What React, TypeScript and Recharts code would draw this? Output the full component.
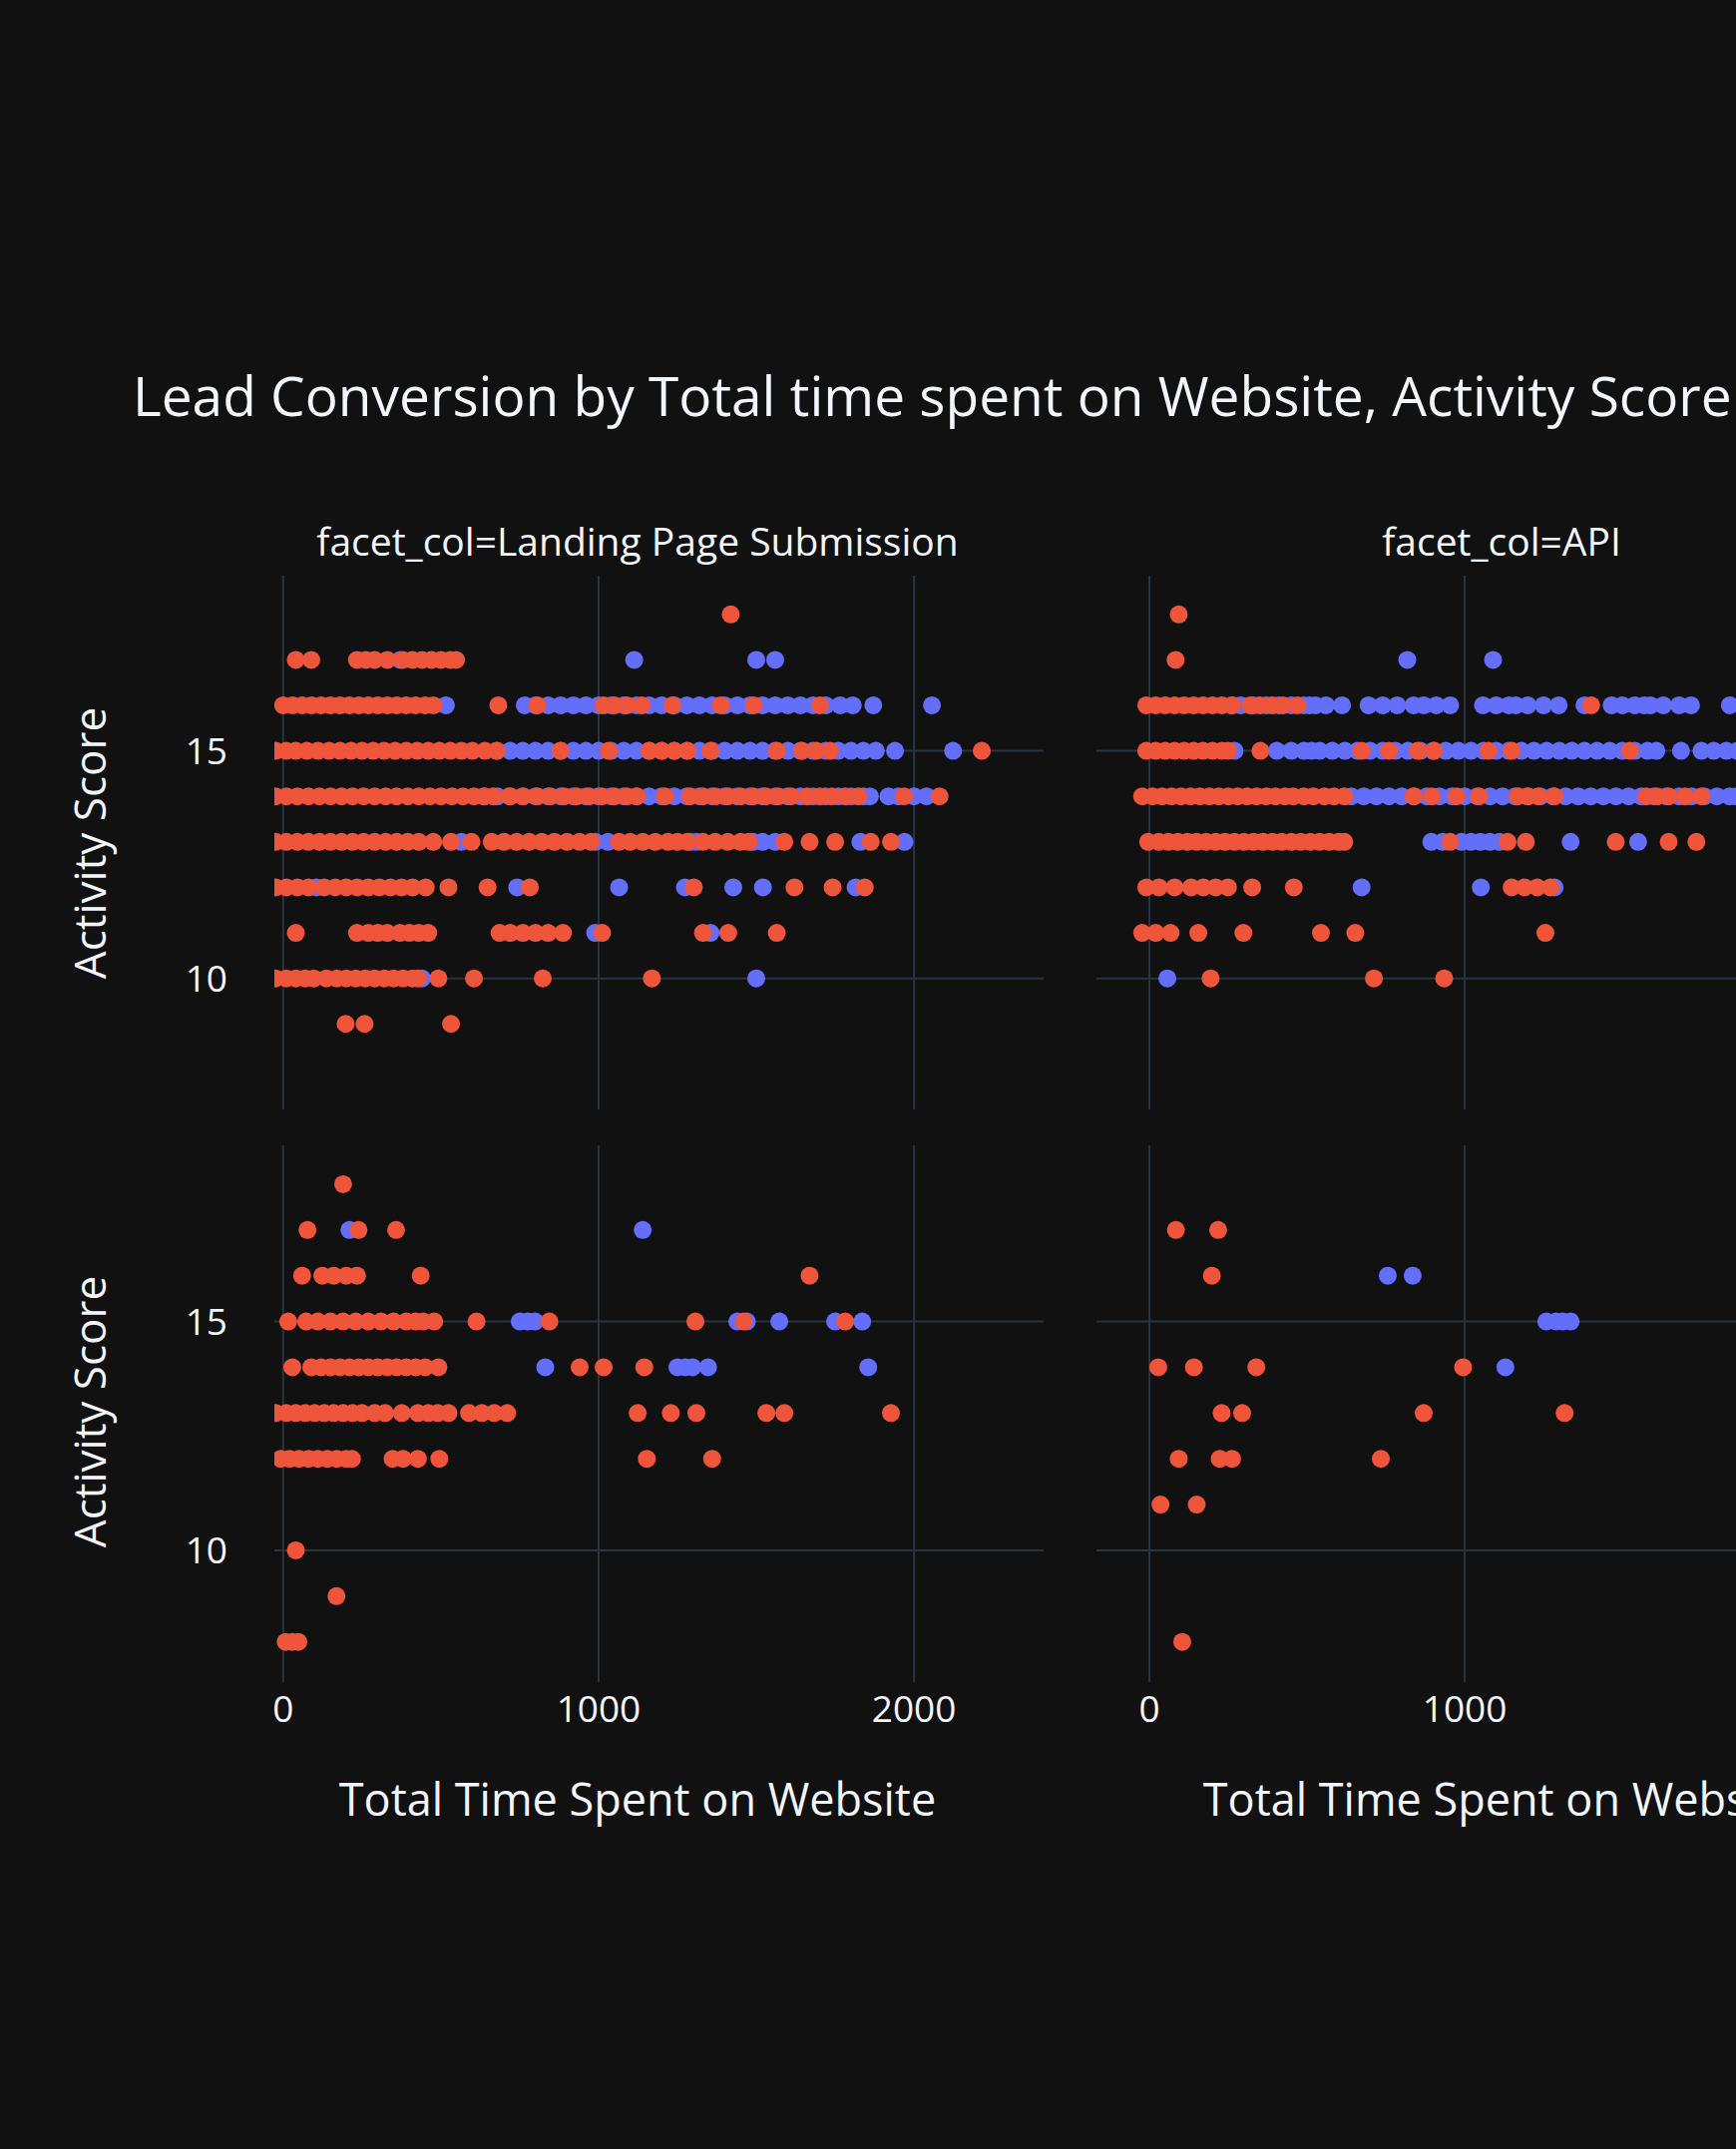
import React from 'react';
import { ScatterChart, Scatter, XAxis, YAxis, CartesianGrid } from 'recharts';

type Rows = [number, number[]][];

const BLUE = '#636efa';
const RED = '#EF553B';
const TEXT = '#f2f5fa';
const GRID = '#283442';
const FONT = '"Open Sans", "Noto Sans", sans-serif';

const titleText = 'Lead Conversion by Total time spent on Website, Activity Score';
const facetLabels = ['facet_col=Landing Page Submission', 'facet_col=API'];
const xTitle = 'Total Time Spent on Website';
const yTitle = 'Activity Score';
const xTicks = [0, 1000, 2000];
const yTicks = [10, 15];
const yDomain: [number, number] = [7.12, 18.85];
const leftXDomain: [number, number] = [-28, 2411];
const rightXDomain: [number, number] = [-168, 2272];

// Top row, Landing Page Submission
const topLeftRed: Rows = [
  [18, [1419]],
  [17, [40, 89, 234, 262, 290, 330, 379, 410, 440, 470, 500, 530, 548]],
  [16, [0, 30, 60, 90, 120, 150, 180, 210, 240, 270, 300, 330, 360, 390, 420, 450, 476, 682, 806, 1016, 1050, 1090, 1137, 1234, 1387, 1492, 1702]],
  [15, [-24, 10, 40, 75, 110, 145, 180, 215, 250, 285, 320, 355, 390, 425, 460, 495, 530, 565, 600, 640, 677, 879, 1032, 1161, 1200, 1240, 1282, 1355, 1565, 1645, 1690, 1734, 2215]],
  [14, [-24, 10, 45, 80, 115, 150, 185, 220, 255, 290, 325, 360, 395, 430, 465, 500, 535, 570, 605, 637, 666, 718, 760, 806, 847, 890, 930, 970, 1010, 1050, 1090, 1121, 1210, 1290, 1330, 1370, 1410, 1450, 1490, 1530, 1570, 1610, 1661, 1702, 1740, 1782, 1823, 1968, 2081]],
  [13, [-24, 10, 45, 80, 115, 150, 185, 220, 255, 290, 325, 360, 395, 430, 476, 532, 597, 661, 700, 740, 780, 820, 860, 900, 940, 976, 1065, 1100, 1140, 1180, 1220, 1250, 1282, 1331, 1370, 1410, 1450, 1476, 1589, 1669, 1750, 1863, 1927]],
  [12, [-24, 10, 45, 80, 130, 165, 200, 235, 270, 305, 340, 375, 410, 452, 524, 648, 782, 1302, 1621, 1742, 1844]],
  [11, [40, 234, 270, 300, 330, 370, 400, 430, 460, 686, 720, 760, 800, 840, 887, 1011, 1331, 1411, 1565]],
  [10, [-24, 10, 40, 70, 97, 137, 170, 200, 230, 260, 290, 320, 350, 380, 410, 427, 492, 605, 823, 1169]],
  [9, [198, 258, 532]],
];
const topLeftBlue: Rows = [
  [17, [371, 1113, 1500, 1560]],
  [16, [516, 766, 800, 840, 880, 920, 960, 1000, 1040, 1080, 1120, 1160, 1200, 1240, 1280, 1320, 1360, 1400, 1440, 1480, 1520, 1560, 1600, 1640, 1680, 1720, 1766, 1806, 1871, 2057]],
  [15, [677, 720, 760, 800, 840, 880, 920, 960, 1000, 1040, 1080, 1120, 1160, 1200, 1240, 1280, 1320, 1360, 1400, 1440, 1480, 1520, 1560, 1600, 1640, 1680, 1720, 1760, 1800, 1840, 1879, 1940, 2124]],
  [14, [637, 680, 720, 760, 800, 840, 880, 920, 960, 1000, 1040, 1080, 1120, 1160, 1200, 1240, 1280, 1320, 1360, 1400, 1440, 1480, 1520, 1560, 1600, 1640, 1680, 1720, 1760, 1800, 1840, 1860, 1919, 1950, 2000, 2040]],
  [13, [565, 990, 1030, 1290, 1310, 1490, 1520, 1560, 1830, 1970]],
  [12, [105, 742, 1065, 1274, 1427, 1521, 1815]],
  [11, [989, 1355]],
  [10, [440, 1500]],
];

// Top row, API
const topRightRed: Rows = [
  [18, [93]],
  [17, [83]],
  [16, [-10, 20, 50, 80, 110, 140, 170, 200, 230, 262, 320, 350, 390, 423, 469, 1401]],
  [15, [-10, 20, 50, 80, 110, 140, 170, 200, 230, 249, 352, 673, 760, 851, 903, 1075, 1149, 1524]],
  [14, [-23, 10, 40, 70, 100, 130, 160, 190, 220, 250, 280, 310, 340, 370, 400, 430, 456, 490, 520, 555, 585, 618, 838, 896, 974, 1045, 1168, 1200, 1233, 1285, 1576, 1610, 1647, 1699, 1751]],
  [13, [-4, 30, 60, 90, 120, 150, 180, 210, 240, 270, 300, 330, 360, 390, 420, 450, 480, 510, 540, 570, 600, 618, 954, 1136, 1194, 1479, 1647, 1735]],
  [12, [-10, 30, 80, 132, 171, 210, 249, 326, 458, 1149, 1190, 1230, 1272]],
  [11, [-23, 20, 67, 155, 298, 544, 653, 1256]],
  [10, [194, 712, 935]],
];
const topRightBlue: Rows = [
  [17, [818, 1090]],
  [16, [262, 290, 330, 370, 410, 450, 490, 508, 527, 560, 611, 695, 740, 786, 838, 870, 910, 954, 1058, 1100, 1140, 1162, 1200, 1250, 1298, 1380, 1466, 1500, 1540, 1570, 1589, 1630, 1680, 1718, 1841]],
  [15, [270, 404, 450, 490, 514, 540, 580, 620, 660, 700, 740, 780, 820, 860, 900, 940, 980, 1020, 1060, 1100, 1140, 1180, 1220, 1260, 1300, 1340, 1380, 1420, 1460, 1500, 1540, 1580, 1608, 1686, 1751, 1790, 1830, 1865]],
  [14, [640, 680, 720, 760, 800, 840, 880, 920, 960, 1000, 1040, 1080, 1120, 1160, 1200, 1240, 1280, 1320, 1360, 1400, 1440, 1480, 1520, 1560, 1600, 1640, 1680, 1720, 1760, 1800, 1840, 1860]],
  [13, [894, 930, 990, 1020, 1050, 1080, 1110, 1336, 1550]],
  [12, [673, 1051, 1285]],
  [10, [57]],
];

// Bottom row, Landing Page Submission
const bottomLeftRed: Rows = [
  [18, [190]],
  [17, [77, 239, 358]],
  [16, [60, 124, 160, 200, 234, 436, 1669]],
  [15, [16, 73, 110, 150, 190, 230, 270, 310, 350, 390, 420, 444, 479, 613, 844, 1307, 1460, 1782]],
  [14, [29, 89, 120, 150, 180, 210, 240, 270, 300, 330, 360, 390, 420, 450, 492, 940, 1016, 1145]],
  [13, [-24, 10, 40, 70, 100, 130, 160, 190, 220, 250, 290, 323, 376, 427, 460, 490, 524, 589, 630, 669, 710, 1124, 1229, 1310, 1532, 1589, 1927]],
  [12, [-8, 20, 50, 80, 110, 140, 170, 200, 218, 347, 380, 427, 495, 1153, 1360]],
  [10, [40]],
  [9, [169]],
  [8, [8, 28, 48]],
];
const bottomLeftBlue: Rows = [
  [17, [210, 1140]],
  [15, [750, 775, 798, 1440, 1470, 1573, 1750, 1836]],
  [14, [831, 1250, 1275, 1298, 1347, 1855]],
];

// Bottom row, API
const bottomRightRed: Rows = [
  [17, [84, 218]],
  [16, [198]],
  [14, [28, 141, 339, 995]],
  [13, [229, 294, 870, 1317]],
  [12, [93, 223, 262, 734]],
  [11, [35, 150]],
  [8, [104]],
];
const bottomRightBlue: Rows = [
  [16, [756, 835]],
  [15, [1259, 1290, 1310, 1336]],
  [14, [1129]],
];

const toPoints = (rows: Rows) =>
  rows.flatMap(([y, xs]) => xs.map((x) => ({ x, y })));

const dot = (color: string) => (p: any) =>
  p.cx == null ? <g /> : <circle cx={p.cx} cy={p.cy} r={9} fill={color} />;

const tickStyle = { fill: TEXT, fontSize: 37, fontFamily: FONT };

type PanelProps = {
  left: number; top: number; plotW: number; plotH: number;
  red: Rows; blue: Rows; xDomain: [number, number];
  showY: boolean; showX: boolean;
};

function Panel({ left, top, plotW, plotH, red, blue, xDomain, showY, showX }: PanelProps) {
  const yW = showY ? 275 : 0;
  const xH = showX ? 70 : 0;
  const [x0, x1] = xDomain;
  const [y0, y1] = yDomain;
  const vx = xTicks.filter((t) => t > x0 && t < x1).map((t) => yW + ((t - x0) / (x1 - x0)) * plotW);
  const hy = yTicks.map((t) => ((y1 - t) / (y1 - y0)) * plotH);
  return (
    <div style={{ position: 'absolute', left: left - yW, top }}>
      <ScatterChart width={plotW + yW} height={plotH + xH} margin={{ top: 0, right: 0, bottom: 0, left: 0 }}>
        <CartesianGrid stroke={GRID} strokeWidth={2} verticalPoints={vx} horizontalPoints={hy} />
        <XAxis
          type="number" dataKey="x" domain={xDomain} ticks={xTicks} allowDataOverflow
          hide={!showX} height={xH} axisLine={false} tickLine={false} tickSize={0} tickMargin={14}
          tick={tickStyle} interval={0}
        />
        <YAxis
          type="number" dataKey="y" domain={yDomain} ticks={yTicks} allowDataOverflow
          hide={!showY} width={yW} axisLine={false} tickLine={false} tickSize={0} tickMargin={47}
          tick={tickStyle} interval={0}
        />
        <Scatter data={toPoints(blue)} fill={BLUE} shape={dot(BLUE)} isAnimationActive={false} />
        <Scatter data={toPoints(red)} fill={RED} shape={dot(RED)} isAnimationActive={false} />
      </ScatterChart>
    </div>
  );
}

const txt = (extra: React.CSSProperties): React.CSSProperties => ({
  position: 'absolute', color: TEXT, fontFamily: FONT, whiteSpace: 'nowrap', lineHeight: 1, ...extra,
});

export default function App() {
  return (
    <div style={{ position: 'absolute', left: 0, top: 0, width: 1740, height: 2154, background: '#111111', overflow: 'hidden' }}>
      <div style={txt({ left: 133, top: 368, fontSize: 55 })}>{titleText}</div>
      <div style={txt({ left: 639, top: 522, fontSize: 39, transform: 'translateX(-50%)' })}>{facetLabels[0]}</div>
      <div style={txt({ left: 1505, top: 522, fontSize: 39, transform: 'translateX(-50%)' })}>{facetLabels[1]}</div>

      <Panel left={275} top={577} plotW={771} plotH={535} red={topLeftRed} blue={topLeftBlue} xDomain={leftXDomain} showY showX={false} />
      <Panel left={1099} top={577} plotW={771} plotH={535} red={topRightRed} blue={topRightBlue} xDomain={rightXDomain} showY={false} showX={false} />
      <Panel left={275} top={1148} plotW={771} plotH={538} red={bottomLeftRed} blue={bottomLeftBlue} xDomain={leftXDomain} showY showX />
      <Panel left={1099} top={1148} plotW={771} plotH={538} red={bottomRightRed} blue={bottomRightBlue} xDomain={rightXDomain} showY={false} showX />

      <div style={txt({ left: 639, top: 1780, fontSize: 45, transform: 'translateX(-50%)' })}>{xTitle}</div>
      <div style={txt({ left: 1505, top: 1780, fontSize: 45, transform: 'translateX(-50%)' })}>{xTitle}</div>
      <div style={txt({ left: 89, top: 845, fontSize: 44, transform: 'translate(-50%, -50%) rotate(-90deg)' })}>{yTitle}</div>
      <div style={txt({ left: 89, top: 1415, fontSize: 44, transform: 'translate(-50%, -50%) rotate(-90deg)' })}>{yTitle}</div>
    </div>
  );
}
